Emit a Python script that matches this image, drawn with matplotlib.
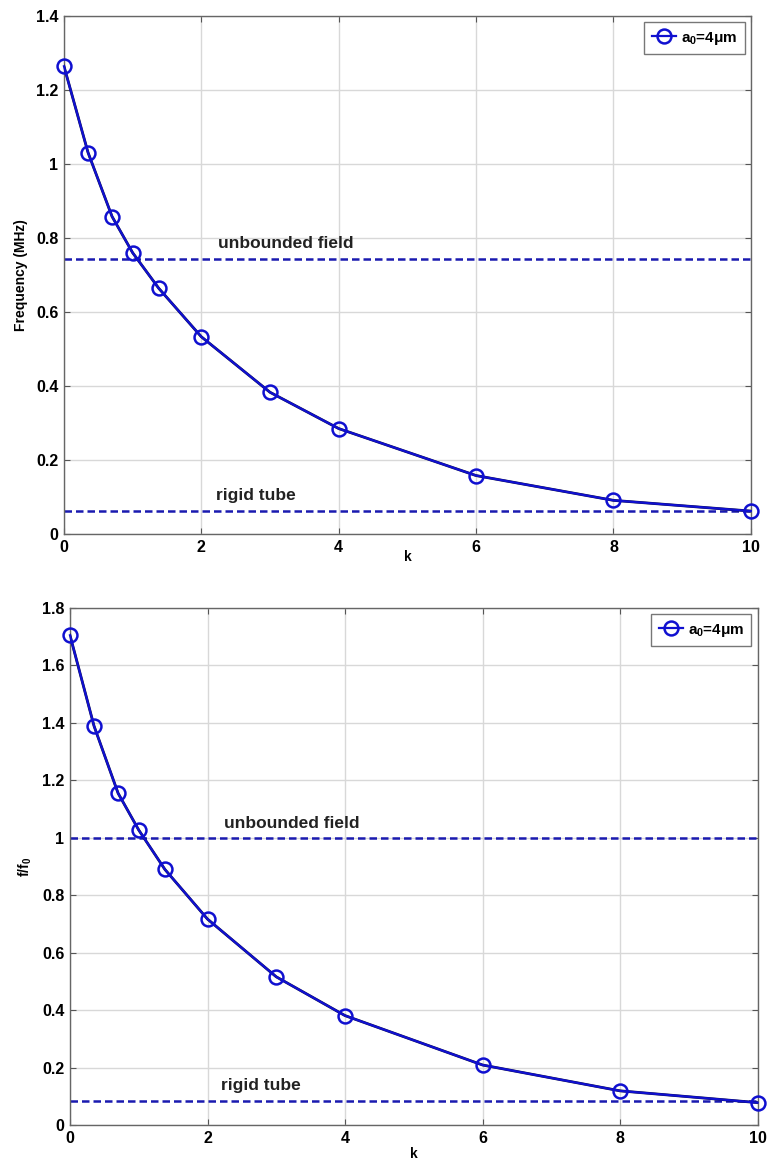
import matplotlib
matplotlib.use("Agg")
import matplotlib.pyplot as plt

plt.rcParams['font.family'] = ['Liberation Sans', 'DejaVu Sans']
plt.rcParams['font.weight'] = 'bold'
plt.rcParams['mathtext.fontset'] = 'custom'
plt.rcParams['mathtext.rm'] = 'Liberation Sans:bold'
plt.rcParams['mathtext.bf'] = 'Liberation Sans:bold'
plt.rcParams['mathtext.it'] = 'Liberation Sans:bold'
plt.rcParams['mathtext.default'] = 'bf'

# Data
k = [0, 0.35, 0.7, 1.0, 1.38, 2, 3, 4, 6, 8, 10]
freq_mhz = [1.264, 1.031, 0.858, 0.760, 0.664, 0.533, 0.383, 0.285, 0.158, 0.091, 0.062]
f_ratio = [1.705, 1.389, 1.155, 1.027, 0.890, 0.717, 0.516, 0.381, 0.209, 0.119, 0.078]
unbounded_freq = 0.744
rigid_freq = 0.063
unbounded_ratio = 1.0
rigid_ratio = 0.085
legend_label = 'a$_0$=4μm'
xticks = [0, 2, 4, 6, 8, 10]
yticks_top = [0, 0.2, 0.4, 0.6, 0.8, 1, 1.2, 1.4]
yticks_bot = [0, 0.2, 0.4, 0.6, 0.8, 1, 1.2, 1.4, 1.6, 1.8]

fig = plt.figure(figsize=(7.7, 11.65), dpi=100)
ax1 = fig.add_axes([0.0831, 0.5416, 0.892, 0.4447])
ax2 = fig.add_axes([0.0909, 0.0343, 0.893, 0.4438])

LINE_BLUE = '#1010d0'
DASH_BLUE = '#1a1ab0'

def style(ax, yticks, ylim, ylabel, xlabelpad):
    ax.set_xlim(0, 10)
    ax.set_ylim(*ylim)
    ax.set_xticks(xticks)
    ax.set_xticklabels([f'{t:g}' for t in xticks])
    ax.set_yticks(yticks)
    ax.set_yticklabels([f'{t:g}' for t in yticks])
    ax.grid(True, color='#d8d8d8', linewidth=1.0, linestyle='-')
    ax.set_axisbelow(True)
    ax.tick_params(direction='in', length=4, width=0.8, labelsize=11.5, color='#555555',
                   top=True, right=True, pad=4)
    for lab in ax.get_xticklabels() + ax.get_yticklabels():
        lab.set_fontweight('bold')
    for s in ax.spines.values():
        s.set_color('#666666')
        s.set_linewidth(1.0)
    ax.set_xlabel('k', fontsize=10, fontweight='bold', labelpad=xlabelpad)
    ax.set_ylabel(ylabel, fontsize=10, fontweight='bold', labelpad=6)

def draw(ax, y, unb, rig, utext_xy, rtext_xy):
    ax.axhline(unb, color=DASH_BLUE, linestyle=(0, (3, 1.6)), linewidth=1.8, zorder=2)
    ax.axhline(rig, color=DASH_BLUE, linestyle=(0, (3, 1.6)), linewidth=1.8, zorder=2)
    ax.plot(k, y, color='#101040', linewidth=2.0, zorder=3)
    ax.plot(k, y, color=LINE_BLUE, linewidth=1.6, marker='o', markersize=10,
            markerfacecolor='none', markeredgecolor=LINE_BLUE, markeredgewidth=1.8,
            label=legend_label, zorder=4, clip_on=False)
    ax.text(*utext_xy, 'unbounded field', ha='center', va='bottom', fontsize=12.5,
            fontweight='bold', color='#222222')
    ax.text(*rtext_xy, 'rigid tube', ha='center', va='bottom', fontsize=12.5,
            fontweight='bold', color='#222222')
    leg = ax.legend(loc='upper right', fontsize=11, frameon=True, fancybox=False,
                    handlelength=1.6, handletextpad=0.3, borderpad=0.5,
                    borderaxespad=0.4)
    leg.get_frame().set_edgecolor('#555555')
    leg.get_frame().set_linewidth(1.0)

style(ax1, yticks_top, (0, 1.4), 'Frequency (MHz)', -3)
draw(ax1, freq_mhz, unbounded_freq, rigid_freq, (3.23, 0.765), (2.8, 0.085))

style(ax2, yticks_bot, (0, 1.8), 'f/f$_0$', 1)
draw(ax2, f_ratio, unbounded_ratio, rigid_ratio, (3.22, 1.025), (2.77, 0.112))

fig.savefig('out.png', dpi=100, facecolor='white')
